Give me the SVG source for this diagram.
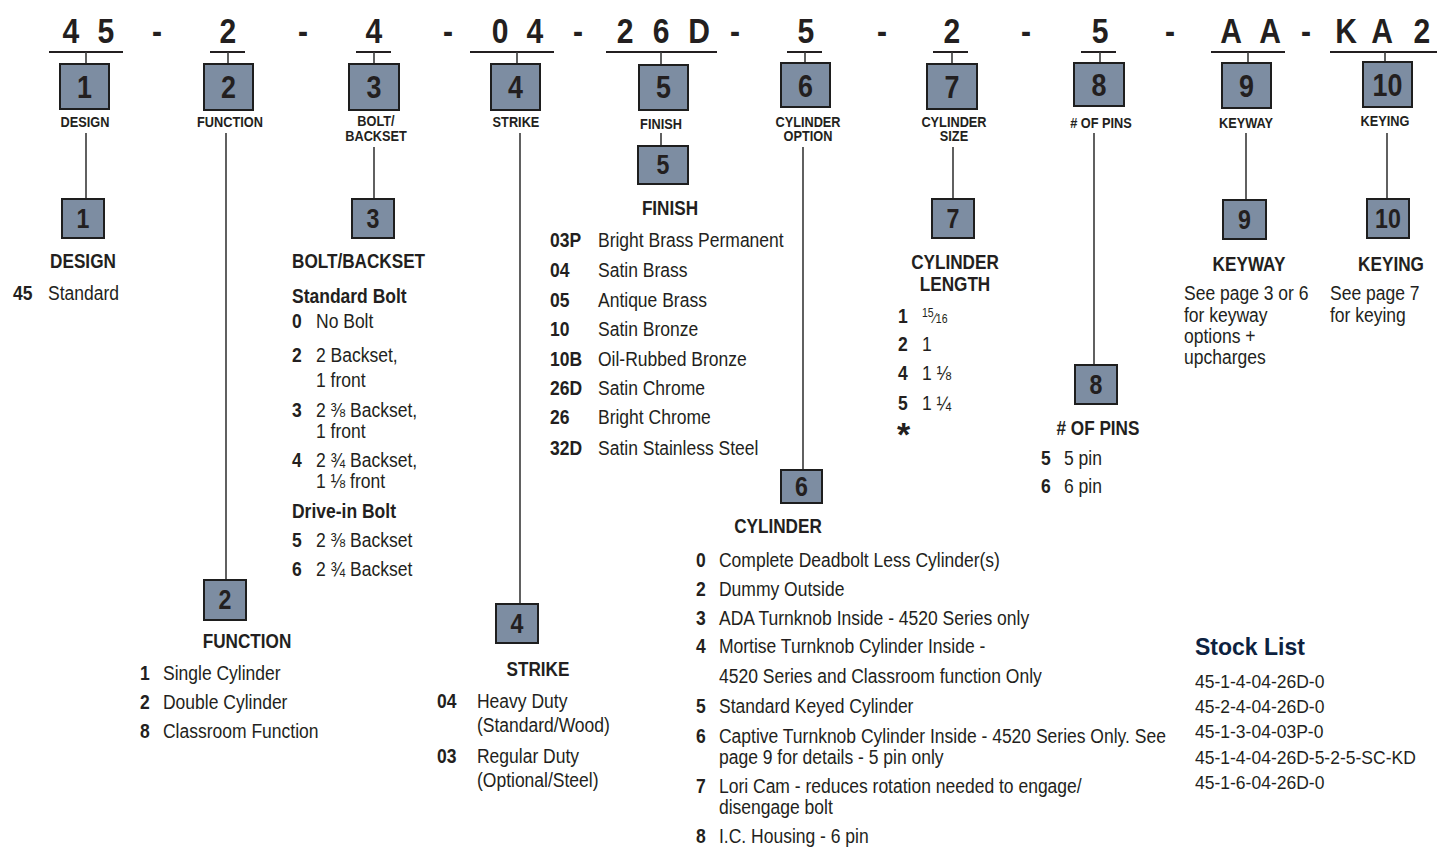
<svg xmlns="http://www.w3.org/2000/svg" width="1438" height="848" viewBox="0 0 1438 848">
<style>
text{font-family:"Liberation Sans",Arial,sans-serif;fill:#231f20}
.code{font-size:35px;font-weight:bold;text-anchor:middle;transform-box:fill-box;transform-origin:50% 0;transform:scaleX(.86)}
.box{fill:#7d8da2;stroke:#1e1e1e;stroke-width:2}
.bn{font-size:32px;font-weight:bold;text-anchor:middle;transform-box:fill-box;transform-origin:50% 0;transform:scaleX(.84)}
.bs{font-size:27px;font-weight:bold;text-anchor:middle;transform-box:fill-box;transform-origin:50% 0;transform:scaleX(.86)}
.lbl{font-size:14.5px;font-weight:bold;text-anchor:middle;transform-box:fill-box;transform-origin:50% 0;transform:scaleX(.88)}
.hd{font-size:19.5px;font-weight:bold;transform-box:fill-box;transform-origin:0 0;transform:scaleX(.88)}
.hc{font-size:19.5px;font-weight:bold;text-anchor:middle;transform-box:fill-box;transform-origin:50% 0;transform:scaleX(.88)}
.t{font-size:20px;transform-box:fill-box;transform-origin:0 0;transform:scaleX(.875)}
.tb{font-size:20px;font-weight:bold;transform-box:fill-box;transform-origin:0 0;transform:scaleX(.875)}
.fr{font-size:12px}
.ln{stroke:#3a3a3a;stroke-width:1.6;fill:none}
.ul{stroke:#231f20;stroke-width:2.2;fill:none}
.sl{font-size:17.5px;fill:#231f20}
.st{font-size:23px;font-weight:bold;fill:#0d2240}
</style>

<g id="code">
<text class="code" x="71" y="43">4</text>
<text class="code" x="106" y="43">5</text>
<text class="code" x="157" y="43">-</text>
<text class="code" x="228" y="43">2</text>
<text class="code" x="303" y="43">-</text>
<text class="code" x="374" y="43">4</text>
<text class="code" x="448" y="43">-</text>
<text class="code" x="500" y="43">0</text>
<text class="code" x="535" y="43">4</text>
<text class="code" x="578" y="43">-</text>
<text class="code" x="625" y="43">2</text>
<text class="code" x="661" y="43">6</text>
<text class="code" x="699" y="43">D</text>
<text class="code" x="735" y="43">-</text>
<text class="code" x="806" y="43">5</text>
<text class="code" x="882" y="43">-</text>
<text class="code" x="952" y="43">2</text>
<text class="code" x="1026" y="43">-</text>
<text class="code" x="1100" y="43">5</text>
<text class="code" x="1170" y="43">-</text>
<text class="code" x="1231" y="43">A</text>
<text class="code" x="1270" y="43">A</text>
<text class="code" x="1306" y="43">-</text>
<text class="code" x="1346" y="43">K</text>
<text class="code" x="1382" y="43">A</text>
<text class="code" x="1422" y="43">2</text>
</g>

<g id="connectors">
<path class="ul" d="M49 52H123M210 52H245M356 52H391M470 52H554M606 52H717M787 52H822M933 52H968M1081 52H1116M1211 52H1285M1330 52H1437"/>
<path class="ln" d="M86 52V64M228 52V64M374 52V64M517 52V64M661 52V64M805 52V63M952 52V64M1100 52V63M1248 52V63M1385 52V62"/>
<path class="ln" d="M86 133V199M226 133V580M374 147V199M520 133V604M661 133V146M803 147V470M953 147V199M1094 133V365M1246 133V200M1387 133V199"/>
</g>

<g id="field-1">
<rect class="box" x="60" y="64" width="49" height="45"/>
<text class="bn" x="84.5" y="98">1</text>
<text class="lbl" x="85" y="127">DESIGN</text>
<rect class="box" x="62" y="199" width="42" height="39"/>
<text class="bs" x="83" y="228">1</text>
<text class="hc" x="83" y="268">DESIGN</text>
<text class="tb" x="13" y="300">45</text>
<text class="t" x="48" y="300">Standard</text>
</g>

<g id="field-2">
<rect class="box" x="204" y="64" width="49" height="46"/>
<text class="bn" x="228.5" y="98">2</text>
<text class="lbl" x="230" y="127">FUNCTION</text>
<rect class="box" x="204" y="580" width="42" height="40"/>
<text class="bs" x="225" y="609">2</text>
<text class="hc" x="247" y="648">FUNCTION</text>
<text class="tb" x="140" y="680">1</text><text class="t" x="163" y="680">Single Cylinder</text>
<text class="tb" x="140" y="709">2</text><text class="t" x="163" y="709">Double Cylinder</text>
<text class="tb" x="140" y="738">8</text><text class="t" x="163" y="738">Classroom Function</text>
</g>

<g id="field-3">
<rect class="box" x="349" y="64" width="50" height="46"/>
<text class="bn" x="374" y="98">3</text>
<text class="lbl" x="376" y="126">BOLT/</text>
<text class="lbl" x="376" y="141">BACKSET</text>
<rect class="box" x="352" y="199" width="42" height="39"/>
<text class="bs" x="373" y="228">3</text>
<text class="hd" x="292" y="268">BOLT/BACKSET</text>
<text class="tb" x="292" y="303">Standard Bolt</text>
<text class="tb" x="292" y="328">0</text><text class="t" x="316" y="328">No Bolt</text>
<text class="tb" x="292" y="362">2</text><text class="t" x="316" y="362">2 Backset,</text>
<text class="t" x="316" y="387">1 front</text>
<text class="tb" x="292" y="417">3</text><text class="t" x="316" y="417">2 ⅜ Backset,</text>
<text class="t" x="316" y="438">1 front</text>
<text class="tb" x="292" y="467">4</text><text class="t" x="316" y="467">2 ¾ Backset,</text>
<text class="t" x="316" y="488">1 ⅛ front</text>
<text class="tb" x="292" y="518">Drive-in Bolt</text>
<text class="tb" x="292" y="547">5</text><text class="t" x="316" y="547">2 ⅜ Backset</text>
<text class="tb" x="292" y="576">6</text><text class="t" x="316" y="576">2 ¾ Backset</text>
</g>

<g id="field-4">
<rect class="box" x="491" y="64" width="49" height="46"/>
<text class="bn" x="515.5" y="98">4</text>
<text class="lbl" x="516" y="127">STRIKE</text>
<rect class="box" x="496" y="604" width="42" height="39"/>
<text class="bs" x="517" y="633">4</text>
<text class="hc" x="538" y="676">STRIKE</text>
<text class="tb" x="437" y="708">04</text><text class="t" x="477" y="708">Heavy Duty</text>
<text class="t" x="477" y="732">(Standard/Wood)</text>
<text class="tb" x="437" y="763">03</text><text class="t" x="477" y="763">Regular Duty</text>
<text class="t" x="477" y="787">(Optional/Steel)</text>
</g>

<g id="field-5">
<rect class="box" x="639" y="65" width="49" height="45"/>
<text class="bn" x="663.5" y="98">5</text>
<text class="lbl" x="661" y="129">FINISH</text>
<rect class="box" x="638" y="146" width="50" height="38"/>
<text class="bs" x="663" y="174">5</text>
<text class="hc" x="670" y="215">FINISH</text>
<text class="tb" x="550" y="247">03P</text><text class="t" x="598" y="247">Bright Brass Permanent</text>
<text class="tb" x="550" y="277">04</text><text class="t" x="598" y="277">Satin Brass</text>
<text class="tb" x="550" y="307">05</text><text class="t" x="598" y="307">Antique Brass</text>
<text class="tb" x="550" y="336">10</text><text class="t" x="598" y="336">Satin Bronze</text>
<text class="tb" x="550" y="366">10B</text><text class="t" x="598" y="366">Oil-Rubbed Bronze</text>
<text class="tb" x="550" y="395">26D</text><text class="t" x="598" y="395">Satin Chrome</text>
<text class="tb" x="550" y="424">26</text><text class="t" x="598" y="424">Bright Chrome</text>
<text class="tb" x="550" y="455">32D</text><text class="t" x="598" y="455">Satin Stainless Steel</text>
</g>

<g id="field-6">
<rect class="box" x="781" y="63" width="49" height="44"/>
<text class="bn" x="805.5" y="97">6</text>
<text class="lbl" x="808" y="127">CYLINDER</text>
<text class="lbl" x="808" y="141">OPTION</text>
<rect class="box" x="781" y="470" width="41" height="33"/>
<text class="bs" x="801.5" y="496">6</text>
<text class="hc" x="778" y="533">CYLINDER</text>
<text class="tb" x="696" y="567">0</text><text class="t" x="719" y="567">Complete Deadbolt Less Cylinder(s)</text>
<text class="tb" x="696" y="596">2</text><text class="t" x="719" y="596">Dummy Outside</text>
<text class="tb" x="696" y="625">3</text><text class="t" x="719" y="625">ADA Turnknob Inside - 4520 Series only</text>
<text class="tb" x="696" y="653">4</text><text class="t" x="719" y="653">Mortise Turnknob Cylinder Inside -</text>
<text class="t" x="719" y="683">4520 Series and Classroom function Only</text>
<text class="tb" x="696" y="713">5</text><text class="t" x="719" y="713">Standard Keyed Cylinder</text>
<text class="tb" x="696" y="743">6</text><text class="t" x="719" y="743">Captive Turnknob Cylinder Inside - 4520 Series Only. See</text>
<text class="t" x="719" y="764">page 9 for details - 5 pin only</text>
<text class="tb" x="696" y="793">7</text><text class="t" x="719" y="793">Lori Cam - reduces rotation needed to engage/</text>
<text class="t" x="719" y="814">disengage bolt</text>
<text class="tb" x="696" y="843">8</text><text class="t" x="719" y="843">I.C. Housing - 6 pin</text>
</g>

<g id="field-7">
<rect class="box" x="927" y="64" width="50" height="45"/>
<text class="bn" x="952" y="98">7</text>
<text class="lbl" x="954" y="127">CYLINDER</text>
<text class="lbl" x="954" y="141">SIZE</text>
<rect class="box" x="932" y="199" width="42" height="39"/>
<text class="bs" x="953" y="228">7</text>
<text class="hc" x="955" y="269">CYLINDER</text>
<text class="hc" x="955" y="291">LENGTH</text>
<text class="tb" x="898" y="323">1</text><text class="t" x="922" y="323"><tspan class="fr" dy="-6">15</tspan><tspan font-size="15" dy="6">⁄</tspan><tspan class="fr">16</tspan></text>
<text class="tb" x="898" y="351">2</text><text class="t" x="922" y="351">1</text>
<text class="tb" x="898" y="380">4</text><text class="t" x="922" y="380">1 ⅛</text>
<text class="tb" x="898" y="410">5</text><text class="t" x="922" y="410">1 ¼</text>
<text x="897" y="446" style="font-size:34px;font-weight:bold">*</text>
</g>

<g id="field-8">
<rect class="box" x="1074" y="63" width="50" height="43"/>
<text class="bn" x="1099" y="96">8</text>
<text class="lbl" x="1101" y="128"># OF PINS</text>
<rect class="box" x="1075" y="365" width="42" height="39"/>
<text class="bs" x="1096" y="394">8</text>
<text class="hc" x="1098" y="435"># OF PINS</text>
<text class="tb" x="1041" y="465">5</text><text class="t" x="1064" y="465">5 pin</text>
<text class="tb" x="1041" y="493">6</text><text class="t" x="1064" y="493">6 pin</text>
</g>

<g id="field-9">
<rect class="box" x="1222" y="63" width="49" height="45"/>
<text class="bn" x="1246.5" y="97">9</text>
<text class="lbl" x="1246" y="128">KEYWAY</text>
<rect class="box" x="1223" y="200" width="43" height="39"/>
<text class="bs" x="1244.5" y="229">9</text>
<text class="hc" x="1249" y="271">KEYWAY</text>
<text class="t" x="1184" y="300">See page 3 or 6</text>
<text class="t" x="1184" y="322">for keyway</text>
<text class="t" x="1184" y="343">options +</text>
<text class="t" x="1184" y="364">upcharges</text>
</g>

<g id="field-10">
<rect class="box" x="1363" y="62" width="49" height="45"/>
<text class="bn" x="1387.5" y="96">10</text>
<text class="lbl" x="1385" y="126">KEYING</text>
<rect class="box" x="1367" y="199" width="42" height="39"/>
<text class="bs" x="1388" y="228">10</text>
<text class="hc" x="1391" y="271">KEYING</text>
<text class="t" x="1330" y="300">See page 7</text>
<text class="t" x="1330" y="322">for keying</text>
</g>

<g id="stock-list">
<text class="st" x="1195" y="655">Stock List</text>
<text class="sl" x="1195" y="688">45-1-4-04-26D-0</text>
<text class="sl" x="1195" y="713">45-2-4-04-26D-0</text>
<text class="sl" x="1195" y="738">45-1-3-04-03P-0</text>
<text class="sl" x="1195" y="764">45-1-4-04-26D-5-2-5-SC-KD</text>
<text class="sl" x="1195" y="789">45-1-6-04-26D-0</text>
</g>
</svg>
